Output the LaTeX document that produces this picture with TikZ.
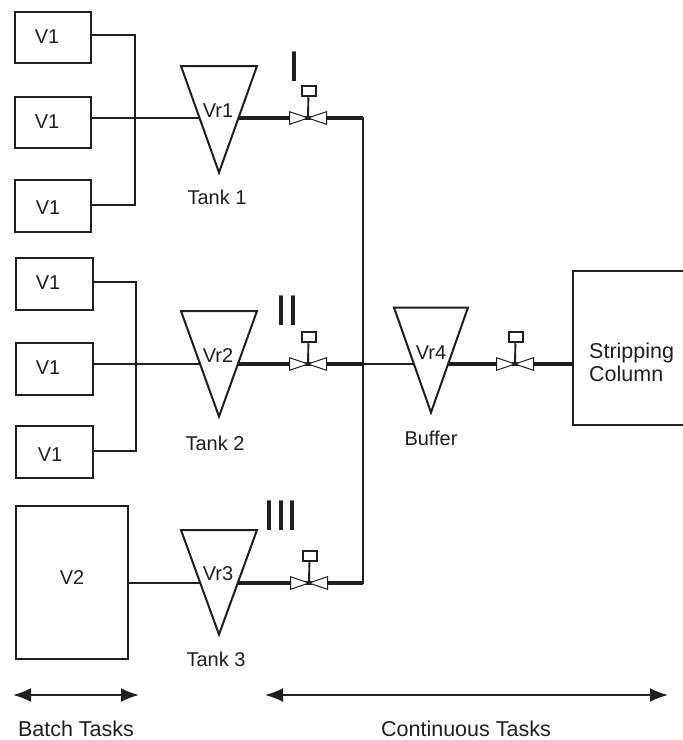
\documentclass[tikz,border=0pt]{standalone}
\usepackage{fontspec}
\setmainfont{Liberation Sans}
\usetikzlibrary{arrows.meta}
\definecolor{ink}{gray}{0.12}
\tikzset{
 x=1pt,y=-1pt,
 pipe/.style={line width=1.9pt,draw=ink},
 heavy pipe/.style={line width=3.2pt,draw=ink},
 unit/.style={draw=ink,line width=2pt,fill=white,inner sep=0pt},
 lbl/.style={font=\fontsize{20}{23}\selectfont,text=ink,inner sep=0pt},
 biglbl/.style={font=\fontsize{21.5}{23}\selectfont,text=ink,inner sep=0pt},
 roman/.style={font=\fontsize{43}{43}\selectfont,text=ink,inner sep=0pt},
 span/.style={line width=2pt,draw=ink,{Latex[length=18pt,width=14pt]}-{Latex[length=18pt,width=14pt]}},
 valvebody/.style={draw=ink,line width=1pt,fill=white,line join=miter},
 act/.style={draw=ink,line width=2pt,fill=white,minimum width=14pt,minimum height=10.5pt,inner sep=0pt},
 tankline/.style={line width=2pt,draw=ink,fill=white,line join=miter},
}
% name, left, top, right, bottom
\newcommand{\unitbox}[5]{\node[unit,minimum width=#4-#2-2 pt,minimum height=#5-#3-2 pt] (#1) at ({(#2+#4)/2},{(#3+#5)/2}) {};}
% name, centre-x, top, half-width, height, pipe-y
\newcommand{\tankpts}[6]{%
  \coordinate (#1TL) at (#2-#4,#3);
  \coordinate (#1TR) at (#2+#4,#3);
  \coordinate (#1B) at (#2,#3+#5);
  \coordinate (#1L) at ({#2-#4*(1-(#6-#3)/#5)},#6);
  \coordinate (#1R) at ({#2+#4*(1-(#6-#3)/#5)},#6);
}
\newcommand{\tankdraw}[1]{\draw[tankline] (#1TL)--(#1TR)--(#1B)--cycle;}
\newcommand{\valve}[1]{%
  \begin{scope}[shift={(#1)}]
    \draw[valvebody] (0,0)--(-18.5,-6.3)--(-18.5,6.3)--cycle;
    \draw[valvebody] (0,0)--(18.5,-6.3)--(18.5,6.3)--cycle;
    \node[act] (#1a) at (0.5,-27) {};
  \end{scope}
  \draw[pipe] (#1a)--(#1);
}
\begin{document}
\begin{tikzpicture}
\useasboundingbox (0,0) rectangle (683,740);
\fill[white] (0,0) rectangle (683,740);
% junctions
\coordinate (busA) at (135,118);
\coordinate (busB) at (136,364);
\coordinate (trunkT) at (362.7,118);
\coordinate (trunkM) at (362.7,364);
\coordinate (trunkB) at (362.7,583);
\coordinate (va) at (308,118);
\coordinate (vb) at (308,364);
\coordinate (vc) at (309,583);
\coordinate (vd) at (515,364);
\tankpts{ta}{219}{66}{38}{106.5}{118}
\tankpts{tb}{219}{311}{38}{105.5}{364}
\tankpts{tc}{219}{530}{38}{104.5}{583}
\tankpts{td}{431}{307.5}{37}{105}{364}
% vessels
\unitbox{a1}{14}{11}{92}{64}
\unitbox{a2}{14}{96}{92}{149}
\unitbox{a3}{14}{179}{92}{233}
\unitbox{b1}{15}{257}{94}{311}
\unitbox{b2}{15}{342}{94}{396}
\unitbox{b3}{15}{425}{94}{479}
\unitbox{v2}{15}{505}{129}{660}
\unitbox{sc}{572}{270}{688}{426}
\node[lbl] (a1t) at (47,37) {V1};
\node[lbl] (a2t) at (47,122) {V1};
\node[lbl] (a3t) at (48,208) {V1};
\node[lbl] (b1t) at (48,283) {V1};
\node[lbl] (b2t) at (48,368) {V1};
\node[lbl] (b3t) at (50,455) {V1};
\node[lbl] (v2t) at (72,578) {V2};
\node[biglbl,align=left,anchor=west] (sct) at (589,362.5) {Stripping\\Column};
% feed pipes
\draw[pipe] (a1.east|-0,35)-|(busA)|-(a3.east|-0,205);
\draw[pipe] (b1.east|-0,282)-|(busB)|-(b3.east|-0,451);
\draw[pipe] (a2.east|-taL)--(taL);
\draw[pipe] (b2.east|-tbL)--(tbL);
\draw[pipe] (v2.east|-tcL)--(tcL);
% outlet pipes
\draw[heavy pipe] (taR)--(va);
\draw[heavy pipe] (tbR)--(vb);
\draw[heavy pipe] (tcR)--(vc);
\draw[heavy pipe] (va)--(trunkT);
\draw[heavy pipe] (vb)--(trunkM);
\draw[heavy pipe] (vc)--(trunkB);
\draw[pipe,line cap=rect] (trunkT)--(trunkB);
\draw[pipe] (trunkM)--(tdL);
\draw[heavy pipe] (tdR)--(vd);
\draw[heavy pipe] (vd)--(sc.west|-vd);
% tanks
\tankdraw{ta}\tankdraw{tb}\tankdraw{tc}\tankdraw{td}
\node[lbl] (tat) at (218,111) {Vr1};
\node[lbl] (tbt) at (218,356) {Vr2};
\node[lbl] (tct) at (218,574) {Vr3};
\node[lbl] (tdt) at (431,353) {Vr4};
\node[lbl] (tan1) at (217,197) {Tank 1};
\node[lbl] (tan2) at (215,443) {Tank 2};
\node[lbl] (tan3) at (216,659) {Tank 3};
\node[lbl] (buf) at (431,438) {Buffer};
% valves
\valve{va}\valve{vb}\valve{vc}\valve{vd}
\node[roman] (r1) at (294,66.5) {I};
\node[roman] (r2) at (287.5,310.5) {II};
\node[roman] (r3) at (281,515.5) {III};
% spans
\coordinate (s1) at (13,695);
\coordinate (s2) at (139,695);
\coordinate (s3) at (265,695);
\coordinate (s4) at (668,695);
\draw[span] (s1)--(s2);
\draw[span] (s3)--(s4);
\node[biglbl] (bt) at (76,729) {Batch Tasks};
\node[biglbl] (ct) at (466,729) {Continuous Tasks};
\end{tikzpicture}
\end{document}
